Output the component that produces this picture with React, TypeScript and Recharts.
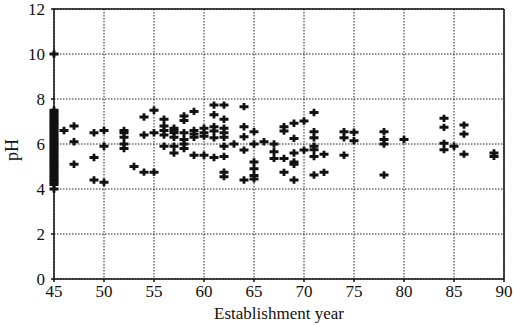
import React from 'react';
import { ScatterChart, Scatter, XAxis, YAxis, CartesianGrid, ReferenceLine } from 'recharts';

// pH values of sites established in 1945 (dense column)
const ph1945: number[] = [
  10.0, 4.0, 4.2, 4.3, 4.4, 4.5, 4.6, 4.7, 4.8, 4.9, 5.0, 5.1, 5.2, 5.3, 5.4, 5.5, 5.6, 5.7,
  5.8, 5.9, 6.0, 6.1, 6.2, 6.3, 6.4, 6.5, 6.6, 6.7, 6.8, 6.9, 7.0, 7.1, 7.2, 7.3, 7.4, 7.5,
];

// Other establishment years and their pH values (parallel arrays)
const otherYears: number[] = [
  46,
  47, 47, 47,
  49, 49, 49,
  50, 50, 50,
  52, 52, 52, 52, 52,
  53,
  54, 54, 54,
  55, 55, 55,
  56, 56, 56, 56, 56,
  57, 57, 57, 57, 57, 57,
  58, 58, 58, 58, 58, 58,
  59, 59, 59, 59, 59,
  60, 60, 60, 60,
  61, 61, 61, 61, 61, 61,
  62, 62, 62, 62, 62, 62, 62, 62, 62,
  63,
  64, 64, 64, 64, 64,
  65, 65, 65, 65, 65, 65,
  66,
  67, 67, 67,
  68, 68, 68, 68,
  69, 69, 69, 69, 69, 69,
  70, 70,
  71, 71, 71, 71, 71, 71, 71,
  72, 72,
  74, 74, 74,
  75, 75,
  78, 78, 78, 78,
  80,
  84, 84, 84, 84,
  85,
  86, 86, 86,
  89, 89,
];
const otherPH: number[] = [
  6.6,
  6.8, 6.1, 5.1,
  6.5, 5.4, 4.4,
  6.6, 5.9, 4.3,
  6.6, 6.5, 6.3, 6.0, 5.8,
  5.0,
  7.2, 6.4, 4.75,
  7.5, 6.5, 4.75,
  7.1, 6.8, 6.6, 6.4, 5.9,
  6.7, 6.6, 6.5, 6.3, 5.9, 5.6,
  7.25, 7.05, 6.5, 6.2, 6.0, 5.8,
  7.45, 6.6, 6.45, 6.3, 5.5,
  6.7, 6.5, 6.35, 5.5,
  7.73, 7.3, 6.77, 6.58, 6.28, 5.4,
  7.73, 7.1, 6.7, 6.5, 6.3, 5.9, 5.45, 4.75, 4.55,
  6.0,
  7.66, 6.77, 6.32, 5.73, 4.4,
  6.55, 6.0, 5.2, 4.9, 4.6, 4.45,
  6.1,
  6.0, 5.66, 5.36,
  6.77, 6.58, 5.36, 4.74,
  6.92, 6.25, 5.6, 5.2, 5.1, 4.4,
  7.02, 5.73,
  7.4, 6.55, 6.28, 5.9, 5.75, 5.44, 4.62,
  5.54, 4.74,
  6.55, 6.28, 5.5,
  6.52, 6.15,
  6.55, 6.2, 6.0, 4.62,
  6.2,
  7.14, 6.74, 6.03, 5.75,
  5.9,
  6.84, 6.44, 5.55,
  5.6, 5.45,
];

const xTicks: number[] = [45, 50, 55, 60, 65, 70, 75, 80, 85, 90];
const yTicks: number[] = [0, 2, 4, 6, 8, 10, 12];

const points = [
  ...ph1945.map((ph) => ({ year: 45, ph })),
  ...otherYears.map((year, i) => ({ year, ph: otherPH[i] })),
];

const FONT = '"Liberation Serif", "Times New Roman", serif';

const PlusMark = (props: any) => {
  const { cx, cy } = props;
  if (cx == null || cy == null) return null;
  const d = `M${cx - 4.5},${cy - 1.5} H${cx + 4.5} V${cy + 1.5} H${cx - 4.5} Z M${cx - 1.4},${cy - 3.7} H${cx + 1.4} V${cy + 3.7} H${cx - 1.4} Z`;
  return <path d={d} fill="#111" stroke="none" />;
};

const YLabel = () => (
  <text
    x={14}
    y={150}
    transform="rotate(-90 14 150)"
    textAnchor="middle"
    dominantBaseline="middle"
    fontFamily={FONT}
    fontSize={18}
    fill="#111"
  >
    pH
  </text>
);

export default function App() {
  return (
    <div style={{ position: 'absolute', left: 0, top: 0, background: '#fff' }}>
      <ScatterChart width={514} height={325} margin={{ top: 9, right: 10, left: 0, bottom: 0 }}>
        <CartesianGrid stroke="#222" strokeDasharray="1.5 1.5" strokeWidth={1} />
        <XAxis
          type="number"
          dataKey="year"
          domain={[45, 90]}
          ticks={xTicks}
          interval={0}
          height={46}
          tickSize={3}
          tickMargin={3}
          stroke="#111"
          strokeWidth={1.5}
          tick={{ fill: '#111', fontFamily: FONT, fontSize: 17 }}
          label={{ value: 'Establishment year', position: 'insideBottom', offset: 6, fill: '#111', fontFamily: FONT, fontSize: 17 }}
        />
        <YAxis
          type="number"
          dataKey="ph"
          domain={[0, 12]}
          ticks={yTicks}
          interval={0}
          width={54}
          tickSize={3}
          tickMargin={6}
          stroke="#111"
          strokeWidth={1.5}
          tick={{ fill: '#111', fontFamily: FONT, fontSize: 17 }}
          label={<YLabel />}
        />
        <ReferenceLine y={12} stroke="#111" strokeWidth={1.5} />
        <ReferenceLine x={90} stroke="#111" strokeWidth={1.5} />
        <Scatter data={points} shape={<PlusMark />} isAnimationActive={false} />
      </ScatterChart>
    </div>
  );
}
